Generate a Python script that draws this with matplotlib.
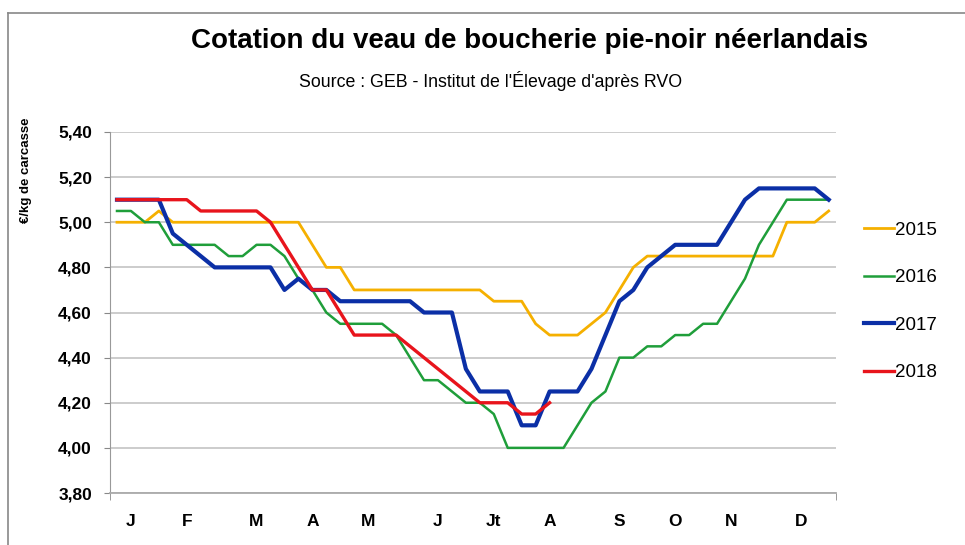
import numpy as np
import matplotlib
matplotlib.use("Agg")
import matplotlib.pyplot as plt
from matplotlib.lines import Line2D

plt.rcParams['font.family'] = ['Liberation Sans Narrow', 'Liberation Sans', 'DejaVu Sans']

# ── données (cotation hebdomadaire, €/kg de carcasse) ──
weeks = np.arange(52)
v2015 = [5.00, 5.00, 5.00, 5.05] + [5.00] * 10 + [4.90, 4.80, 4.80] + [4.70] * 10 + \
        [4.65] * 3 + [4.55] + [4.50] * 3 + [4.55, 4.60, 4.70, 4.80] + [4.85] * 10 + [5.00] * 3 + [5.05]
v2016 = [5.05, 5.05, 5.00, 5.00, 4.90, 4.90, 4.90, 4.90, 4.85, 4.85, 4.90, 4.90, 4.85,
         4.75, 4.70, 4.60, 4.55, 4.55, 4.55, 4.55, 4.50, 4.40, 4.30, 4.30, 4.25, 4.20,
         4.20, 4.15, 4.00, 4.00, 4.00, 4.00, 4.00, 4.10, 4.20, 4.25, 4.40, 4.40, 4.45,
         4.45, 4.50, 4.50, 4.55, 4.55, 4.65, 4.75, 4.90, 5.00, 5.10, 5.10, 5.10, 5.10]
v2017 = [5.10] * 4 + [4.95, 4.90, 4.85] + [4.80] * 5 + [4.70, 4.75, 4.70, 4.70] + [4.65] * 6 + \
        [4.60] * 3 + [4.35] + [4.25] * 3 + [4.10] * 2 + [4.25] * 3 + [4.35, 4.50, 4.65, 4.70, 4.80, 4.85] + \
        [4.90] * 4 + [5.00, 5.10] + [5.15] * 5 + [5.10]
v2018 = [5.10] * 6 + [5.05] * 5 + [5.00, 4.90, 4.80, 4.70, 4.70, 4.60] + [4.50] * 4 + \
        [4.45, 4.40, 4.35, 4.30, 4.25] + [4.20] * 3 + [4.15] * 2 + [4.20]

years = ['2015', '2016', '2017', '2018']
series = [v2015, v2016, v2017, v2018]
colors = ['#F5B000', '#1F9E3A', '#0B2FA6', '#E8141C']
widths = [2.0, 1.8, 3.0, 2.4]

month_labels = ['J', 'F', 'M', 'A', 'M', 'J', 'Jt', 'A', 'S', 'O', 'N', 'D']
month_weeks = [1, 5, 10, 14, 18, 23, 27, 31, 36, 40, 44, 49]
y_ticks = [3.80, 4.00, 4.20, 4.40, 4.60, 4.80, 5.00, 5.20, 5.40]
y_labels = ['3,80', '4,00', '4,20', '4,40', '4,60', '4,80', '5,00', '5,20', '5,40']

fig = plt.figure(figsize=(9.65, 5.45), dpi=100)
ax = fig.add_axes([0.114, 0.0954, 0.752, 0.6624])

for i, (yr, vals) in enumerate(zip(years, series)):
    ax.plot(weeks[:len(vals)], vals, color=colors[i], lw=widths[i], label=yr,
            solid_joinstyle='round', zorder=3 + i)

ax.set_xlim(-0.5, 51.5)
ax.set_ylim(3.80, 5.40)
ax.set_yticks(y_ticks)
ax.set_yticklabels(y_labels, fontsize=12.5, fontweight='bold')
ax.tick_params(axis='y', length=4, color='#888888', pad=9)
ax.set_xticks(month_weeks)
ax.set_xticklabels(month_labels, fontsize=12.5, fontweight='bold')
ax.tick_params(axis='x', length=0, pad=15)
ax.set_xticks([-0.5, 51.5], minor=True)
ax.tick_params(axis='x', which='minor', length=5, color='#888888', direction='out')

ax.grid(axis='y', color='#C8C8C8', lw=1.3)
ax.set_axisbelow(True)
for s in ['top', 'right']:
    ax.spines[s].set_visible(False)
ax.spines['left'].set_color('#999999')
ax.spines['bottom'].set_color('#AAAAAA')
ax.spines['bottom'].set_linewidth(1.3)

ax.set_ylabel('€/kg de carcasse', fontsize=9.5, fontweight='bold')
ax.yaxis.set_label_coords(-0.108, 0.895)

leg = ax.legend(loc='upper left', bbox_to_anchor=(0.888, 0.607), bbox_transform=fig.transFigure,
                frameon=False, fontsize=13.5, handlelength=1.6, handletextpad=0.05,
                labelspacing=1.62, borderaxespad=0)

fig.text(0.549, 0.925, 'Cotation du veau de boucherie pie-noir néerlandais',
         ha='center', va='center', fontsize=20, fontweight='bold')
fig.text(0.508, 0.851, "Source : GEB - Institut de l'Élevage d'après RVO",
         ha='center', va='center', fontsize=12.8)

# cadre
fig.add_artist(Line2D([0.0083, 0.0083], [0, 0.976], color='#888888', lw=1.2))
fig.add_artist(Line2D([0.0083, 1.0], [0.976, 0.976], color='#888888', lw=1.2))

fig.savefig('out.png', dpi=100)
